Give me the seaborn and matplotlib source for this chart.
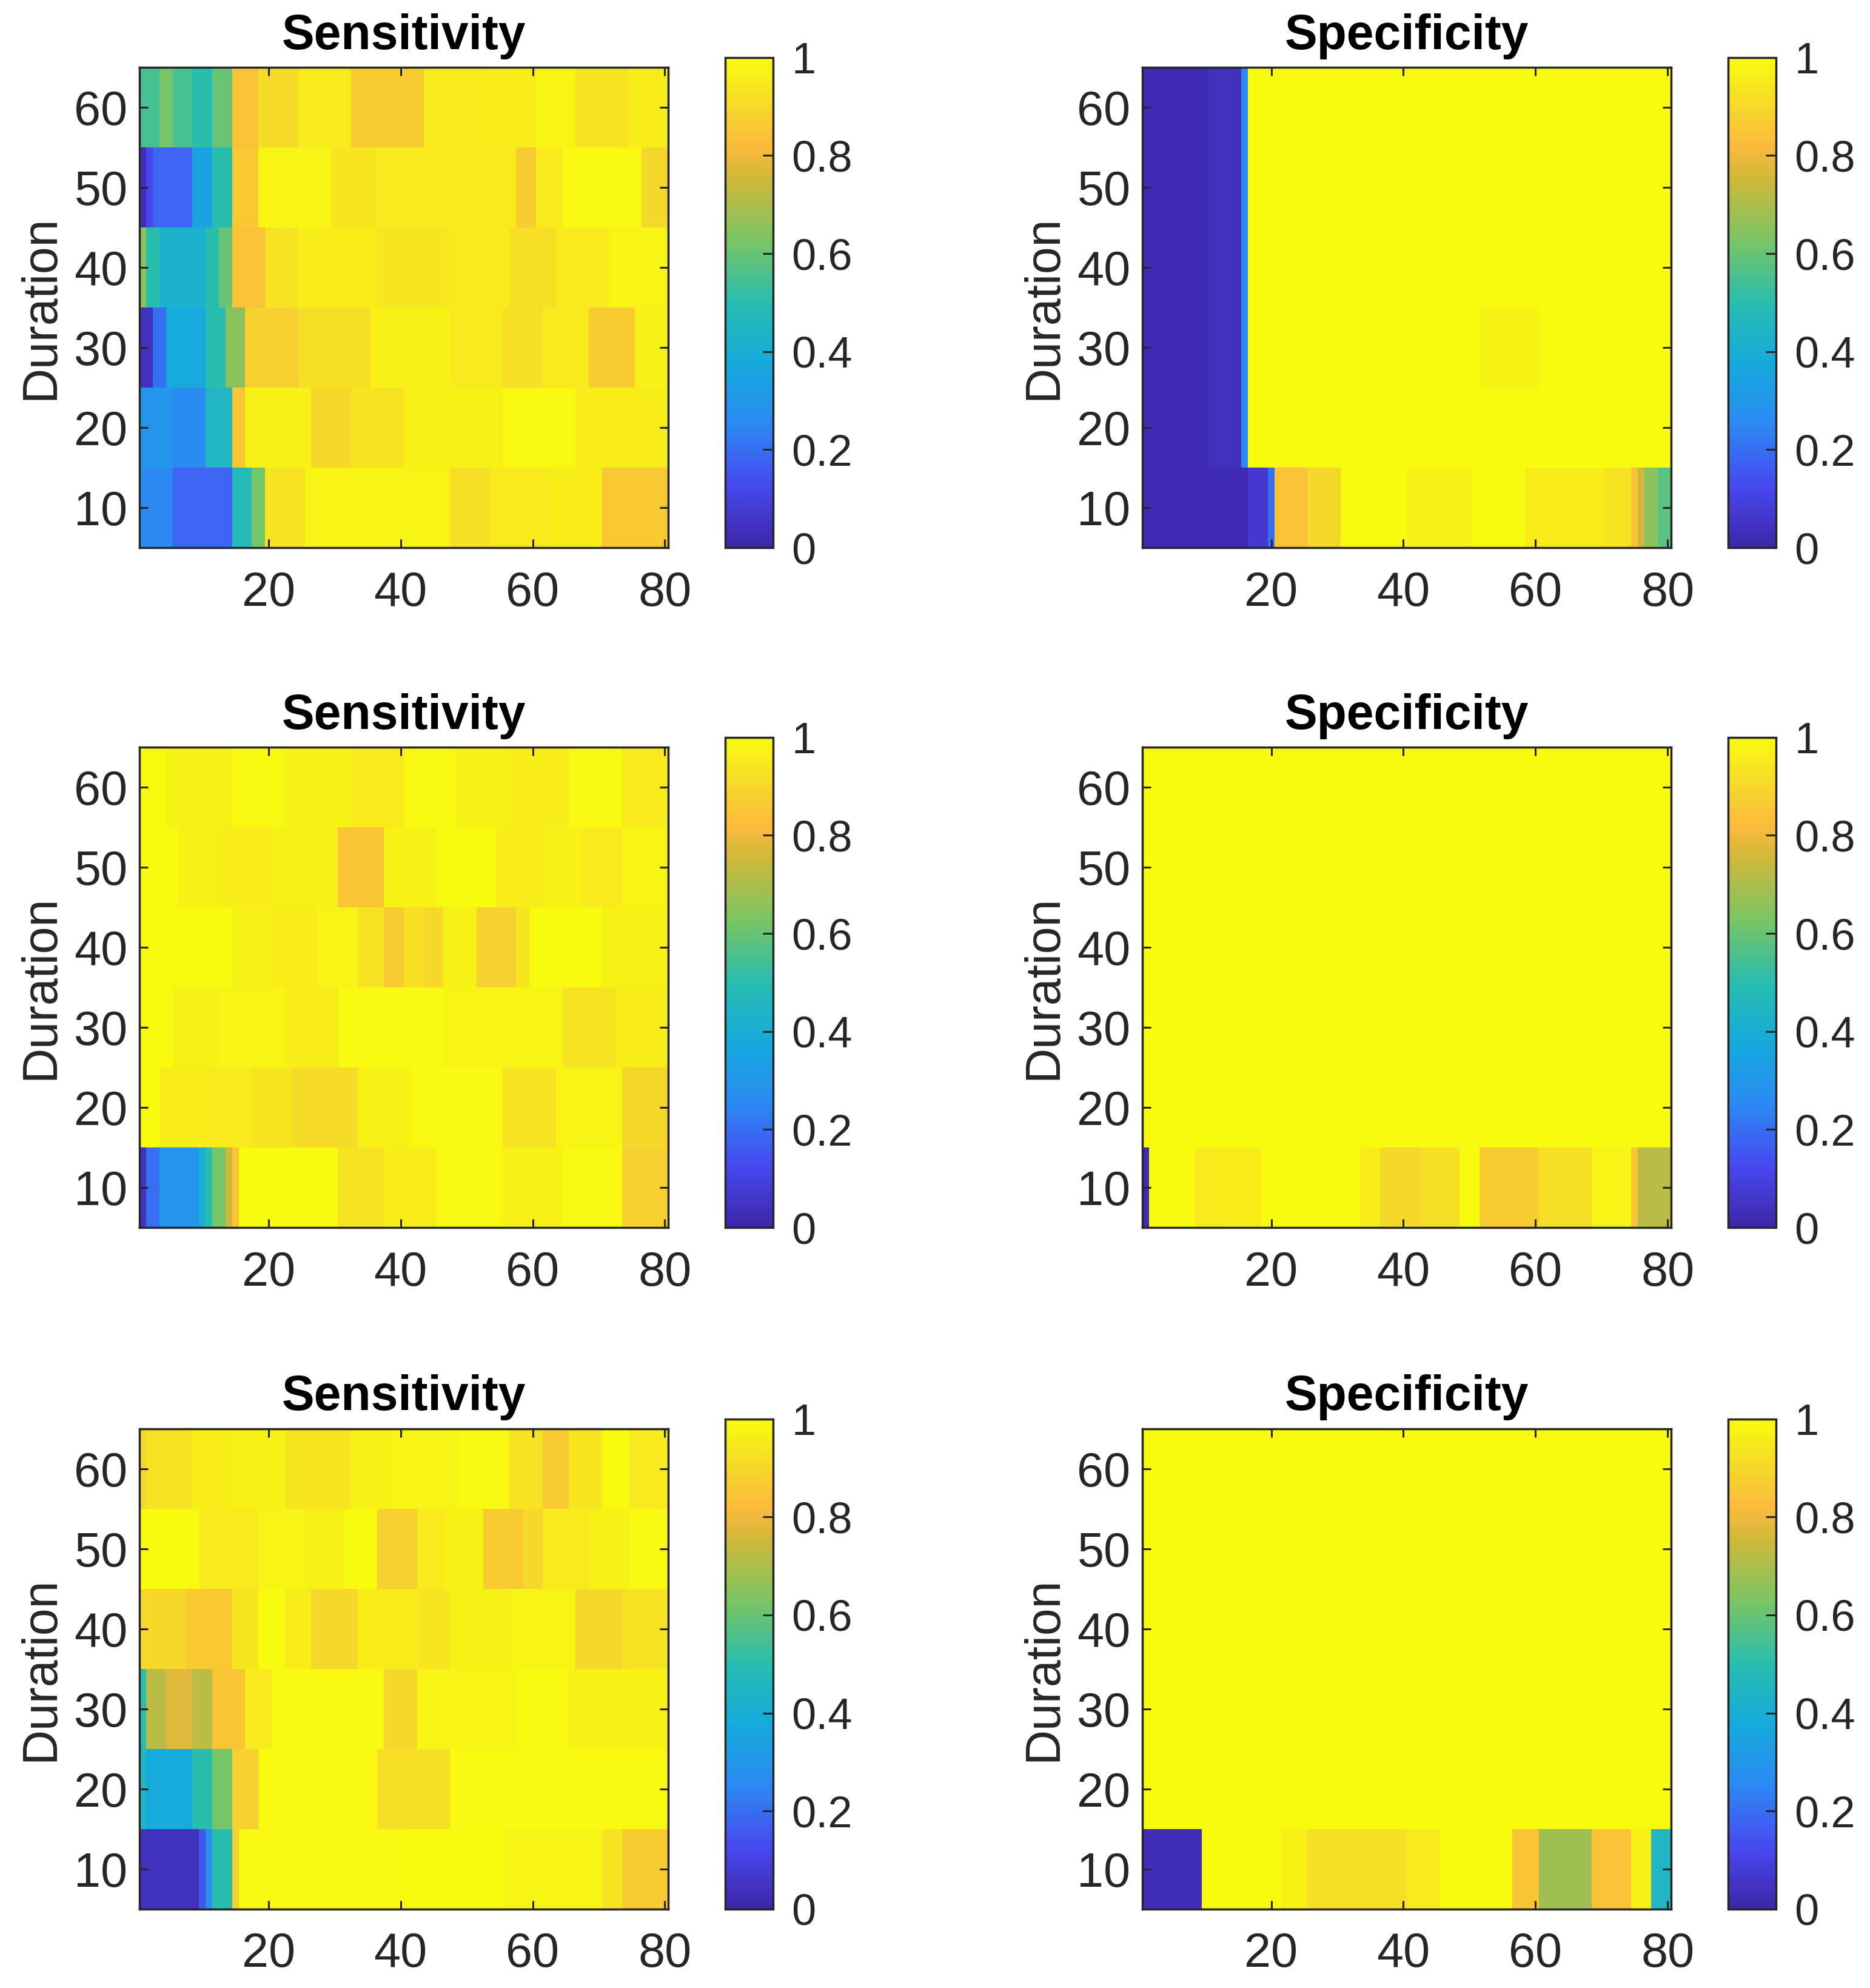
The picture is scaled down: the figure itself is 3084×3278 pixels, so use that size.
import numpy as np
import pandas as pd
import matplotlib
matplotlib.use("Agg")
import matplotlib.pyplot as plt
import seaborn as sns
from matplotlib.colors import LinearSegmentedColormap

plt.rcParams['font.family'] = ['Liberation Sans', 'DejaVu Sans']

# Axes labels / ticks
durations = [60, 50, 40, 30, 20, 10]      # heatmap rows, top to bottom
windows = list(range(1, 81))              # heatmap columns
x_ticks = [20, 40, 60, 80]
cbar_ticks = [0, 0.2, 0.4, 0.6, 0.8, 1]
cbar_labels = ['0', '0.2', '0.4', '0.6', '0.8', '1']
titles = ['Sensitivity', 'Specificity']

# Values, one row per duration (60 -> 10),
# written as (value, number of consecutive columns)
sens_1 = [
    [(0.55, 3), (0.62, 2), (0.55, 3), (0.50, 3), (0.60, 3), (0.84, 4), (0.91, 6), (0.95, 8),
     (0.87, 11), (0.95, 9), (0.96, 8), (0.98, 6), (0.93, 8), (0.96, 6)],
    [(0.03, 1), (0.12, 1), (0.18, 6), (0.35, 3), (0.50, 3), (0.86, 4), (0.98, 11), (0.94, 7),
     (0.95, 10), (0.95, 11), (0.87, 3), (0.95, 4), (0.99, 12), (0.90, 4)],
    [(0.65, 1), (0.50, 2), (0.42, 7), (0.50, 2), (0.60, 2), (0.84, 5), (0.93, 5), (0.96, 12),
     (0.94, 11), (0.95, 9), (0.92, 7), (0.95, 8), (0.98, 9)],
    [(0.04, 2), (0.20, 2), (0.38, 6), (0.50, 3), (0.65, 3), (0.88, 8), (0.92, 11), (0.97, 12),
     (0.95, 8), (0.92, 6), (0.95, 7), (0.87, 7), (0.97, 5)],
    [(0.30, 5), (0.26, 5), (0.45, 4), (0.85, 2), (0.97, 10), (0.90, 6), (0.93, 8), (0.97, 15),
     (0.99, 11), (0.96, 14)],
    [(0.25, 5), (0.18, 9), (0.48, 3), (0.62, 2), (0.93, 6), (0.98, 22), (0.92, 6), (0.95, 9),
     (0.96, 8), (0.86, 10)],
]

spec_1 = [
    [(0.02, 10), (0.04, 5), (0.25, 1), (1.0, 64)],
    [(0.02, 10), (0.04, 5), (0.25, 1), (1.0, 64)],
    [(0.02, 10), (0.04, 5), (0.25, 1), (1.0, 64)],
    [(0.02, 10), (0.04, 5), (0.25, 1), (1.0, 35), (0.975, 9), (1.0, 20)],
    [(0.02, 10), (0.04, 5), (0.25, 1), (1.0, 64)],
    [(0.02, 16), (0.07, 3), (0.20, 1), (0.84, 5), (0.90, 5), (1.0, 10), (0.97, 10), (1.0, 8),
     (0.96, 12), (0.93, 4), (0.85, 1), (0.75, 1), (0.65, 2), (0.58, 2)],
]

sens_2 = [
    [(1.0, 4), (0.97, 10), (0.99, 8), (0.97, 10), (0.95, 8), (0.99, 8), (0.97, 8), (0.96, 9),
     (0.99, 8), (0.95, 7)],
    [(1.0, 6), (0.97, 6), (0.96, 8), (0.97, 10), (0.85, 7), (0.97, 8), (1.0, 9), (0.96, 7),
     (0.97, 6), (0.95, 6), (0.98, 7)],
    [(1.0, 14), (0.97, 6), (0.96, 7), (0.98, 6), (0.93, 4), (0.87, 3), (0.92, 3), (0.90, 3),
     (0.97, 5), (0.88, 6), (0.94, 2), (1.0, 11), (0.97, 10)],
    [(1.0, 5), (0.97, 7), (0.98, 10), (0.96, 8), (0.99, 16), (0.98, 18), (0.93, 8), (0.96, 8)],
    [(1.0, 3), (0.96, 7), (0.95, 7), (0.94, 6), (0.91, 10), (0.97, 8), (0.99, 14), (0.93, 8),
     (0.98, 10), (0.90, 7)],
    [(0.05, 1), (0.20, 2), (0.30, 6), (0.40, 1), (0.50, 1), (0.62, 2), (0.75, 1), (0.85, 1),
     (1.0, 15), (0.93, 7), (0.96, 8), (0.99, 10), (0.97, 9), (0.99, 9), (0.88, 7)],
]

spec_2 = [
    [(1.0, 80)],
    [(1.0, 80)],
    [(1.0, 80)],
    [(1.0, 80)],
    [(1.0, 80)],
    [(0.02, 1), (1.0, 7), (0.95, 4), (0.96, 6), (1.0, 15), (0.96, 3), (0.90, 6), (0.92, 6),
     (1.0, 3), (0.87, 9), (0.92, 8), (0.98, 6), (0.85, 1), (0.72, 5)],
]

sens_3 = [
    [(0.90, 1), (0.93, 7), (0.96, 6), (0.97, 8), (0.94, 10), (0.97, 6), (0.98, 10), (0.99, 8),
     (0.93, 5), (0.87, 4), (0.94, 5), (1.0, 4), (0.95, 6)],
    [(1.0, 9), (0.95, 9), (0.98, 7), (0.97, 6), (1.0, 5), (0.88, 6), (0.95, 4), (0.97, 6),
     (0.87, 6), (0.90, 3), (0.95, 7), (0.97, 6), (0.99, 6)],
    [(0.90, 7), (0.86, 7), (0.94, 4), (1.0, 4), (0.96, 4), (0.90, 7), (0.96, 9), (0.94, 5),
     (0.97, 9), (0.98, 10), (0.90, 7), (0.93, 7)],
    [(0.50, 1), (0.72, 3), (0.78, 4), (0.72, 3), (0.85, 5), (0.95, 4), (0.99, 17), (0.90, 5),
     (0.98, 15), (0.99, 8), (0.97, 15)],
    [(0.45, 1), (0.38, 7), (0.50, 3), (0.62, 3), (0.88, 4), (0.99, 18), (0.92, 11), (0.99, 33)],
    [(0.04, 9), (0.15, 1), (0.28, 1), (0.50, 3), (0.88, 1), (0.99, 25), (1.0, 15), (0.98, 15),
     (0.93, 3), (0.87, 7)],
]

spec_3 = [
    [(1.0, 80)],
    [(1.0, 80)],
    [(1.0, 80)],
    [(1.0, 80)],
    [(1.0, 80)],
    [(0.03, 9), (1.0, 12), (0.97, 4), (0.92, 15), (0.95, 5), (1.0, 11), (0.85, 4), (0.68, 8),
     (0.84, 6), (0.97, 3), (0.45, 3)],
]

panels = [sens_1, spec_1, sens_2, spec_2, sens_3, spec_3]

# MATLAB parula look-alike
parula_colors = ['#3E26A8', '#4749F0', '#2C89F4', '#15AADC', '#28BDAF', '#78C566',
                 '#CDB93B', '#FCBA3C', '#F6D72B', '#F9FB0E']
parula_pos = [0.0, 0.125, 0.25, 0.375, 0.5, 0.625, 0.75, 0.82, 0.9, 1.0]
parula = LinearSegmentedColormap.from_list('parula', list(zip(parula_pos, parula_colors)))


def to_frame(rows):
    grid = []
    for row in rows:
        vals = [v for v, n in row]
        counts = [n for v, n in row]
        grid.append(np.repeat(vals, counts))
    return pd.DataFrame(np.array(grid), index=durations, columns=windows)


fig = plt.figure(figsize=(30.84, 32.78), dpi=100)

col_left = [0.0746, 0.6109]
cbar_left = [0.3878, 0.9241]
row_bottom = [0.7245, 0.3825, 0.0397]
ax_w, ax_h = 0.2827, 0.2416
cb_w, cb_h = 0.0256, 0.2466

txt_color = '#262626'

for i, rows in enumerate(panels):
    r, c = divmod(i, 2)
    ax = fig.add_axes([col_left[c], row_bottom[r], ax_w, ax_h])
    cax = fig.add_axes([cbar_left[c], row_bottom[r], cb_w, cb_h])
    df = to_frame(rows)
    sns.heatmap(df, ax=ax, cbar_ax=cax, cmap=parula, vmin=0, vmax=1,
                xticklabels=False, yticklabels=False, linewidths=0,
                cbar_kws={'ticks': cbar_ticks})

    ax.set_xticks([windows.index(v) + 0.5 for v in x_ticks])
    ax.set_xticklabels([str(v) for v in x_ticks])
    ax.set_yticks([durations.index(d) + 0.5 for d in durations])
    ax.set_yticklabels([str(d) for d in durations], rotation=0)
    ax.tick_params(direction='in', length=10, width=2.2, top=True, right=True,
                   labelsize=57, colors=txt_color, labelcolor=txt_color)
    ax.tick_params(axis='x', pad=27)
    ax.tick_params(axis='y', pad=14)
    for s in ax.spines.values():
        s.set_visible(True)
        s.set_linewidth(2.5)
        s.set_color(txt_color)
    ax.set_ylabel('Duration', fontsize=58, color=txt_color, labelpad=12)
    ax.set_xlabel('')
    ax.set_title(titles[c], fontsize=58, fontweight='bold', pad=22)

    cbar = ax.collections[0].colorbar
    cbar.set_ticklabels(cbar_labels)
    cbar.outline.set_linewidth(2.5)
    cbar.outline.set_edgecolor(txt_color)
    cax.tick_params(direction='in', length=12, width=2.2, labelsize=52,
                    colors=txt_color, pad=22)

fig.savefig('out.png', dpi=100, facecolor='white')
